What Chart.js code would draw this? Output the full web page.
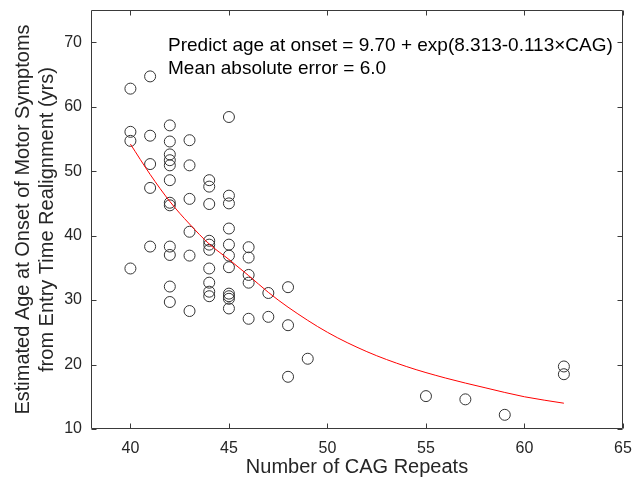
<!DOCTYPE html>
<html>
<head>
<meta charset="utf-8">
<script src="https://cdn.jsdelivr.net/npm/chart.js@4.4.1/dist/chart.umd.min.js"></script>
<style>
  html, body { margin: 0; padding: 0; background: #fff; }
  #wrap { width: 632px; height: 479px; }
</style>
</head>
<body>
<div id="wrap"><canvas id="scatterChart" width="632" height="479"></canvas></div>
<script>
// CAG repeat count for every subject and the estimated onset age
var cagRepeats = [
  40, 40, 40, 40,
  41, 41, 41, 41, 41,
  42, 42, 42, 42, 42, 42, 42, 42, 42, 42, 42, 42,
  43, 43, 43, 43, 43, 43,
  44, 44, 44, 44, 44, 44, 44, 44, 44, 44,
  45, 45, 45, 45, 45, 45, 45, 45, 45, 45, 45,
  46, 46, 46, 46, 46,
  47, 47,
  48, 48, 48,
  49,
  55,
  57,
  59,
  62, 62
];
var onsetAges = [
  62.8, 56.1, 54.7, 34.9,
  64.7, 55.5, 51.1, 47.4, 38.3,
  57.1, 54.6, 52.6, 51.7, 50.9, 48.6, 45.1, 44.7, 38.3, 37.0, 32.1, 29.7,
  54.8, 50.9, 45.7, 40.6, 36.9, 28.3,
  48.6, 47.6, 44.9, 39.2, 38.6, 37.8, 34.9, 32.7, 31.3, 30.6,
  58.4, 46.2, 45.0, 41.1, 38.6, 36.9, 35.1, 31.0, 30.6, 30.2, 28.7,
  38.2, 36.6, 33.9, 32.7, 27.1,
  31.1, 27.4,
  32.0, 26.1, 18.1,
  20.9,
  15.1,
  14.6,
  12.2,
  19.7, 18.5
];

// red fitted curve, read at a few CAG values
var fitCag = [40, 41, 42, 43, 44, 45, 46, 47, 48, 50, 52, 54, 56, 58, 60, 62];
var fitAge = [54.2, 49.5, 45.3, 41.8, 38.7, 36.3, 33.8, 31.2, 28.9, 25.0, 22.0, 19.7, 17.9, 16.4, 15.0, 14.0];

var xTicks = [40, 45, 50, 55, 60, 65];
var yTicks = [10, 20, 30, 40, 50, 60, 70];

var annotationLines = [
  "Predict age at onset = 9.70 + exp(8.313-0.113\u00d7CAG)",
  "Mean absolute error = 6.0"
];

var fontName = "'Liberation Sans', Arial, sans-serif";
var axisColor = "#262626";

var puntos = [];
for (var i = 0; i < cagRepeats.length; i++) {
  puntos.push({ x: cagRepeats[i], y: onsetAges[i] });
}

var curva = [];
for (var i = 0; i < fitCag.length; i++) {
  curva.push({ x: fitCag[i], y: fitAge[i] });
}

// box around the plot with inward ticks on all four sides + text
var boxPlugin = {
  id: "boxPlugin",
  afterDraw: function (chart) {
    var ctx = chart.ctx;
    var a = chart.chartArea;
    var sx = chart.scales.x;
    var sy = chart.scales.y;
    var L = Math.round(a.left) + 0.5;
    var R = Math.round(a.right) - 0.5;
    var T = Math.round(a.top) + 0.5;
    var B = Math.round(a.bottom) - 0.5;
    var len = 5;

    ctx.save();
    ctx.strokeStyle = "#3a3a3a";
    ctx.lineWidth = 1;
    ctx.beginPath();
    ctx.rect(L, T, R - L, B - T);

    xTicks.forEach(function (v) {
      var px = Math.round(sx.getPixelForValue(v)) + 0.5;
      ctx.moveTo(px, B);
      ctx.lineTo(px, B - len);
      ctx.moveTo(px, T);
      ctx.lineTo(px, T + len);
    });
    yTicks.forEach(function (v) {
      var py = Math.round(sy.getPixelForValue(v)) + 0.5;
      ctx.moveTo(L, py);
      ctx.lineTo(L + len, py);
      ctx.moveTo(R, py);
      ctx.lineTo(R - len, py);
    });
    ctx.stroke();

    ctx.fillStyle = "#000";
    ctx.font = "19px " + fontName;
    ctx.textBaseline = "middle";
    ctx.textAlign = "left";
    ctx.fillText(annotationLines[0], a.left + 77, a.top + 36);
    ctx.fillText(annotationLines[1], a.left + 77, a.top + 59);
    ctx.restore();
  },
};

new Chart(document.getElementById("scatterChart"), {
  type: "scatter",

  data: {
    datasets: [
      {
        label: "Fit",
        type: "line",
        data: curva,
        borderColor: "#ff0000",
        borderWidth: 1,
        pointRadius: 0,
        fill: false,
        cubicInterpolationMode: "monotone",
      },
      {
        label: "Subjects",
        data: puntos,
        pointStyle: "circle",
        pointRadius: 5.5,
        pointBorderWidth: 1,
        pointBorderColor: "#333333",
        pointBackgroundColor: "rgba(0,0,0,0)",
      },
    ],
  },

  options: {
    responsive: false,
    animation: false,
    events: [],

    layout: {
      padding: { top: 10, right: 9, left: 0, bottom: 0 },
    },

    plugins: {
      legend: { display: false },
      tooltip: { enabled: false },
    },

    scales: {
      x: {
        type: "linear",
        min: 38,
        max: 65,
        afterBuildTicks: function (scale) {
          scale.ticks = xTicks.map(function (v) { return { value: v }; });
        },
        afterFit: function (scale) {
          scale.height = 50;
          scale.paddingLeft = 0;
          scale.paddingRight = 0;
        },
        grid: { display: false, drawTicks: false },
        border: { display: false },
        ticks: {
          color: axisColor,
          padding: 10,
          font: { family: fontName, size: 16 },
        },
        title: {
          display: true,
          text: "Number of CAG Repeats",
          color: axisColor,
          padding: { top: 0, bottom: 0 },
          font: { family: fontName, size: 20 },
        },
      },

      y: {
        type: "linear",
        min: 10,
        max: 75,
        afterBuildTicks: function (scale) {
          scale.ticks = yTicks.map(function (v) { return { value: v }; });
        },
        afterFit: function (scale) {
          scale.width = 91;
          scale.paddingTop = 0;
          scale.paddingBottom = 0;
        },
        grid: { display: false, drawTicks: false },
        border: { display: false },
        ticks: {
          color: axisColor,
          padding: 9,
          font: { family: fontName, size: 16 },
        },
        title: {
          display: true,
          text: [
            "Estimated Age at Onset of Motor Symptoms",
            "from Entry Time Realignment (yrs)",
          ],
          color: axisColor,
          padding: { top: 11, bottom: 0 },
          font: { family: fontName, size: 20, lineHeight: 1.2 },
        },
      },
    },
  },

  plugins: [boxPlugin],
});
</script>
</body>
</html>
